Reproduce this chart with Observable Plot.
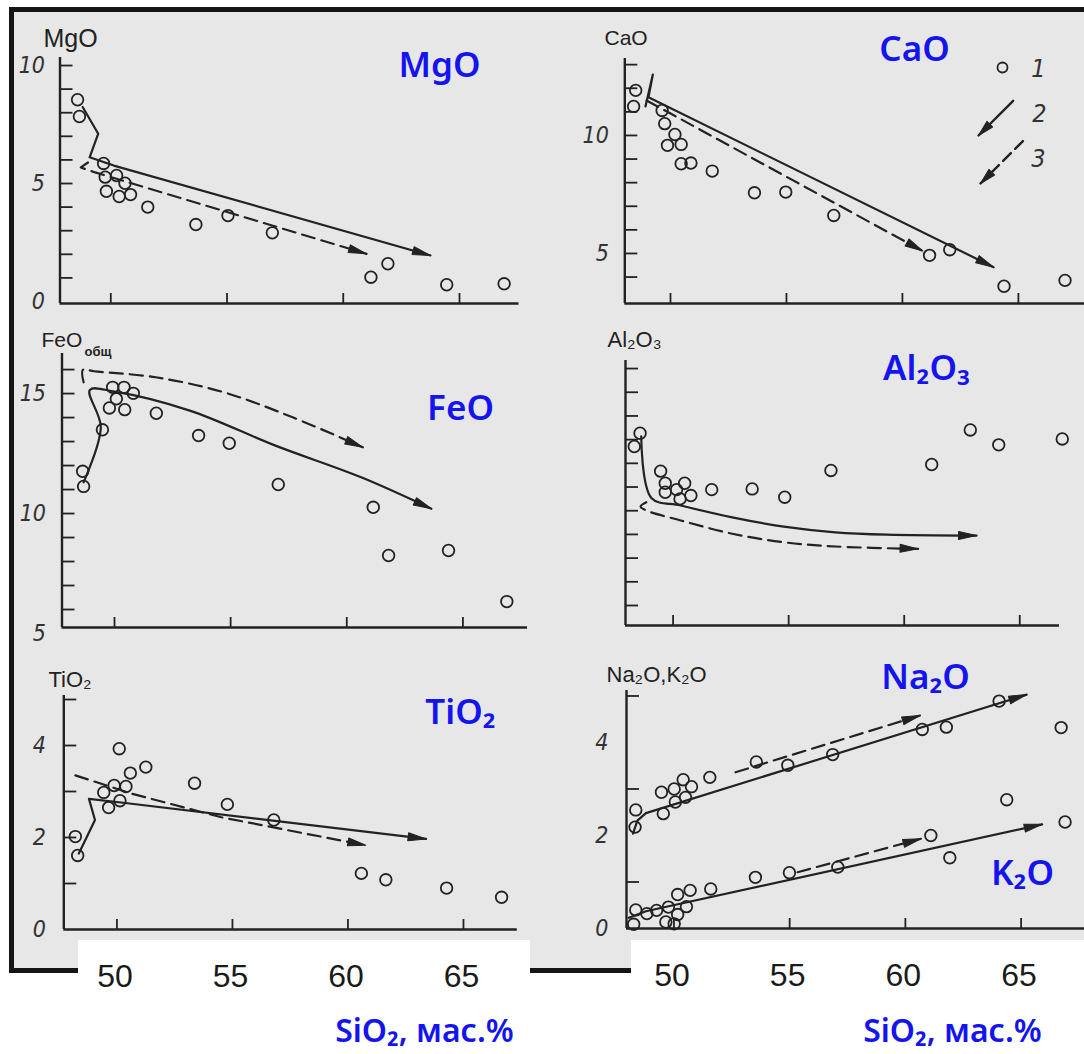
<!DOCTYPE html>
<html>
<head>
<meta charset="utf-8">
<script src="https://cdn.jsdelivr.net/npm/d3@7"></script>
<script src="https://cdn.jsdelivr.net/npm/@observablehq/plot@0.6"></script>
<style>
  html, body { margin: 0; padding: 0; background: #ffffff; }
  #page { position: relative; width: 1084px; height: 1054px; overflow: hidden; background: #ffffff; }
  #scan { position: absolute; left: 9px; top: 7px; width: 1080px; height: 956px;
          background: #e7e7e7; border-left: 5px solid #151515; border-top: 5px solid #151515;
          border-bottom: 5px solid #151515; }
  .patch { position: absolute; background: #ffffff; }
  .layer { position: absolute; left: 0; top: 0; }
  .layer svg { overflow: visible; }
</style>
</head>
<body>
<div id="page">
  <div id="scan"></div>
  <div class="patch" style="left:78px; top:940px; width:452px; height:114px;"></div>
  <div class="patch" style="left:631px; top:940px; width:453px; height:114px;"></div>
</div>
<script>
// ===================== DATA (SiO2, oxide wt.%) =====================
const xTickValues = [50, 55, 60, 65];

// MgO
const mgoPoints = [[48.57,8.55],[48.65,7.84],[49.69,5.85],[49.76,5.27],[50.25,5.34],[50.61,5.01],[49.81,4.67],[50.36,4.45],[50.85,4.53],[51.59,4.00],[53.66,3.26],[55.04,3.64],[56.95,2.91],[61.19,1.03],[61.92,1.60],[64.45,0.71],[66.92,0.75]];
const mgoSolid  = [[48.79,8.24],[49.46,7.11],[49.09,6.11],[50.13,5.76],[63.75,1.95]];
const mgoDashed = [[49.02,5.89],[48.71,5.68],[49.33,5.47],[61.00,2.02]];
const mgoYTicks = [1,2,3,4,5,6,7,8,9,10];
const mgoYLabels = [0,5,10];

// CaO
const caoPoints = [[48.50,11.91],[48.41,11.23],[49.64,11.06],[49.75,10.50],[50.19,10.04],[49.87,9.58],[50.46,9.62],[50.46,8.80],[50.88,8.83],[51.80,8.49],[53.62,7.57],[54.97,7.60],[57.04,6.61],[61.17,4.92],[62.04,5.16],[64.38,3.61],[67.01,3.86]];
const caoSolid  = [[48.92,11.23],[49.24,12.58],[49.05,11.62],[63.93,4.42]];
const caoDashed = [[48.97,11.48],[60.88,5.10]];
const caoYTicks = [4,5,6,7,8,9,10,11,12,13];
const caoYLabels = [5,10];

// FeO total
const feoPoints = [[48.63,11.76],[48.67,11.13],[49.48,13.49],[49.92,15.26],[50.41,15.26],[50.81,15.01],[50.08,14.78],[49.78,14.40],[50.44,14.33],[51.80,14.18],[53.62,13.25],[54.94,12.93],[57.05,11.21],[61.14,10.26],[61.80,8.25],[64.38,8.46],[66.89,6.33]];
const feoSolid  = [[48.67,11.30],[49.41,13.60],[48.94,15.15],[50.00,15.08],[53.24,14.29],[56.93,12.83],[60.62,11.51],[63.64,10.20]];
const feoDashed = [[48.67,15.47],[48.64,15.99],[49.12,15.93],[51.77,15.68],[54.72,15.05],[57.67,14.01],[60.69,12.76]];
const feoYTicks = [6,7,8,9,10,11,12,13,14,15,16];
const feoYLabels = [5,10,15];

// Al2O3
const alPoints = [[48.57,17.27],[48.32,16.71],[49.46,15.67],[49.66,15.16],[50.50,15.16],[49.66,14.78],[50.15,14.89],[50.77,14.64],[50.30,14.50],[51.67,14.89],[53.42,14.92],[54.83,14.57],[56.83,15.70],[61.19,15.95],[62.86,17.41],[64.09,16.78],[66.84,17.03]];
const alSolid  = [[48.62,17.14],[49.06,14.54],[50.33,14.22],[52.56,13.72],[54.79,13.33],[57.02,13.09],[59.25,12.99],[63.13,12.95]];
const alDashed = [[48.84,14.36],[48.59,14.18],[48.84,14.01],[50.33,13.59],[52.56,13.03],[54.79,12.67],[57.02,12.49],[60.60,12.39]];
const alYTicks = [10,11,12,13,14,15,16,17,18,19,20];
const alYLabels = [];

// TiO2
const tiPoints = [[50.10,3.93],[51.25,3.53],[50.58,3.40],[49.43,2.98],[49.88,3.13],[50.39,3.11],[50.13,2.80],[49.64,2.65],[53.36,3.18],[54.78,2.72],[56.79,2.38],[48.20,2.02],[48.30,1.61],[60.58,1.22],[61.64,1.08],[64.27,0.90],[66.65,0.70]];
const tiSolid  = [[48.35,1.65],[49.05,2.38],[48.79,2.84],[50.36,2.75],[63.38,1.97]];
const tiDashed = [[48.20,3.35],[50.66,2.95],[54.52,2.44],[60.77,1.83]];
const tiYTicks = [1,2,3,4,5];
const tiYLabels = [0,2,4];

// Na2O and K2O
const naPoints = [[48.35,2.55],[48.32,2.18],[49.46,2.93],[49.54,2.47],[50.01,3.00],[50.40,3.20],[50.06,2.72],[50.50,2.82],[50.76,3.05],[51.55,3.25],[53.56,3.58],[54.92,3.51],[56.86,3.74],[60.73,4.28],[61.77,4.33],[64.05,4.89],[66.73,4.32]];
const naSolid  = [[48.23,2.04],[48.42,2.32],[48.79,2.48],[65.24,5.03]];
const naDashed = [[52.66,3.36],[60.63,4.58]];
const kPoints  = [[48.35,0.40],[48.26,0.09],[48.83,0.32],[49.25,0.39],[49.76,0.46],[49.65,0.14],[50.01,0.10],[50.16,0.30],[50.54,0.47],[50.16,0.73],[50.70,0.82],[51.59,0.85],[53.52,1.10],[54.99,1.20],[57.08,1.32],[61.10,2.00],[61.92,1.52],[64.38,2.77],[66.90,2.29]];
const kSolid   = [[48.05,0.23],[48.79,0.37],[65.91,2.24]];
const kDashed  = [[55.34,1.21],[60.67,1.93]];
const naYTicks = [1,3,5];
const naYLabels = [0,2,4];

// legend labels
const legendLabels = ["1", "2", "3"];

// ===================== STYLE / LAYOUT =====================
const W = 1084, H = 1054;
const ink = "#222222";
const blue = "#1414ee";
const scanFont = "'Liberation Sans Narrow', 'DejaVu Sans Condensed', 'Liberation Sans', sans-serif";
const plainFont = "'Liberation Sans', Arial, sans-serif";
const blueFont = "'Noto Sans', 'Open Sans', sans-serif";

const tipShape = {draw(ctx, l, r) { ctx.moveTo(-r, 0); ctx.lineTo(0, -l); ctx.lineTo(r, 0); ctx.closePath(); }};
const shaftShape = {draw(ctx, l) { ctx.moveTo(0, 0); ctx.lineTo(0, -l); }};

function makePanel(cfg) {
  const f = cfg.frame;
  const fw = f.right - f.left, fh = f.bottom - f.top;
  const sx = d3.scaleLinear(cfg.xDomain, [f.left, f.right]);
  const sy = d3.scaleLinear(cfg.yDomain, [f.bottom, f.top]);
  const marks = [];
  // axes lines and inward ticks
  marks.push(Plot.ruleX([cfg.xDomain[0]], {stroke: ink, strokeWidth: 2.4}));
  marks.push(Plot.ruleY([cfg.yDomain[0]], {stroke: ink, strokeWidth: 2.4}));
  marks.push(Plot.tickY(cfg.yTicks, {y: d => d, insetRight: fw - 13, stroke: ink, strokeWidth: 1.8}));
  marks.push(Plot.tickX(xTickValues, {x: d => d, insetTop: fh - 10, stroke: ink, strokeWidth: 1.8}));
  if (cfg.yLabels.length) {
    marks.push(Plot.axisY(cfg.yLabels, {anchor: "left", tickSize: 0, tickPadding: cfg.pad, fontSize: 23,
      fontStyle: "italic", fontFamily: scanFont, color: "#333", label: null, tickFormat: d => String(d)}));
  }
  if (cfg.bottomAxis) {
    marks.push(Plot.axisX(xTickValues, {anchor: "bottom", tickSize: 0, tickPadding: 35, fontSize: 32,
      fontFamily: plainFont, color: "#1a1a1a", label: null, dx: -2, tickFormat: d => String(d)}));
    marks.push(Plot.text(["SiO₂, мас.%"], {frameAnchor: "top-left", dx: cfg.bottomAxis.x - f.left, dy: cfg.bottomAxis.y - f.top,
      text: d => d, fontSize: 32, fontWeight: 600, fontFamily: blueFont, fill: blue, textAnchor: "middle", lineAnchor: "middle"}));
  }
  // trend lines with arrow heads
  for (const t of cfg.trends) {
    marks.push(Plot.line(t.path, {x: d => d[0], y: d => d[1], stroke: ink, strokeWidth: 2.2,
      strokeDasharray: t.dashed ? "13,7" : undefined, curve: t.curve || "linear"}));
    const a = t.path[t.path.length - 2], b = t.path[t.path.length - 1];
    const ang = Math.atan2(sx(b[0]) - sx(a[0]), -(sy(b[1]) - sy(a[1]))) * 180 / Math.PI;
    marks.push(Plot.vector([b], {x: d => d[0], y: d => d[1], rotate: ang, length: 18, r: 4,
      shape: tipShape, anchor: "end", fill: ink, stroke: ink, strokeWidth: 1}));
  }
  // data points
  for (const p of cfg.points) {
    marks.push(Plot.dot(p, {x: d => d[0], y: d => d[1], r: 5.8, stroke: ink, strokeWidth: 1.8, fill: "none"}));
  }
  // axis titles (scan style)
  for (const t of cfg.titles) {
    marks.push(Plot.text([t.text], {frameAnchor: "top-left", dx: t.x - f.left, dy: t.y - f.top, text: d => d,
      textAnchor: "start", lineAnchor: "bottom", fontSize: t.size, fontWeight: t.weight || 400, fontFamily: plainFont, fill: ink}));
  }
  // blue labels
  for (const t of cfg.blue) {
    marks.push(Plot.text([t.text], {frameAnchor: "top-left", dx: t.x - f.left, dy: t.y - f.top, text: d => d,
      textAnchor: "middle", lineAnchor: "middle", fontSize: 35, fontWeight: 600, fontFamily: blueFont, fill: blue}));
  }
  if (cfg.legend) marks.push(...cfg.legend);
  const plot = Plot.plot({
    width: W, height: H,
    marginLeft: f.left, marginRight: W - f.right, marginTop: f.top, marginBottom: H - f.bottom,
    x: {domain: cfg.xDomain, axis: null},
    y: {domain: cfg.yDomain, axis: null},
    style: {background: "transparent", overflow: "visible"},
    marks
  });
  const div = document.createElement("div");
  div.className = "layer";
  div.appendChild(plot);
  document.getElementById("page").appendChild(div);
}

// legend (frame-anchored inside the CaO panel)
const legendMarks = [
  Plot.dot([0], {frameAnchor: "top-right", dx: -82, dy: 9, r: 5, stroke: ink, strokeWidth: 1.8, fill: "none"}),
  Plot.text([legendLabels[0]], {frameAnchor: "top-right", dx: -46, dy: 10, text: d => d, fontSize: 25, fontStyle: "italic", fontFamily: scanFont, fill: "#333", textAnchor: "middle", lineAnchor: "middle"}),
  Plot.vector([0], {frameAnchor: "top-right", dx: -106, dy: 77, rotate: -135, length: 49, anchor: "end", shape: shaftShape, stroke: ink, strokeWidth: 2.4}),
  Plot.vector([0], {frameAnchor: "top-right", dx: -106, dy: 77, rotate: -135, length: 16, r: 4, anchor: "end", shape: tipShape, fill: ink, stroke: ink, strokeWidth: 1}),
  Plot.text([legendLabels[1]], {frameAnchor: "top-right", dx: -45, dy: 55, text: d => d, fontSize: 25, fontStyle: "italic", fontFamily: scanFont, fill: "#333", textAnchor: "middle", lineAnchor: "middle"}),
  Plot.vector([0], {frameAnchor: "top-right", dx: -104, dy: 125, rotate: -135, length: 60, anchor: "end", shape: shaftShape, stroke: ink, strokeWidth: 2.4, strokeDasharray: "11,6"}),
  Plot.vector([0], {frameAnchor: "top-right", dx: -104, dy: 125, rotate: -135, length: 16, r: 4, anchor: "end", shape: tipShape, fill: ink, stroke: ink, strokeWidth: 1}),
  Plot.text([legendLabels[2]], {frameAnchor: "top-right", dx: -46, dy: 100, text: d => d, fontSize: 25, fontStyle: "italic", fontFamily: scanFont, fill: "#333", textAnchor: "middle", lineAnchor: "middle"})
];

// ===================== PANELS =====================
makePanel({
  frame: {left: 59.5, right: 518.5, top: 57, bottom: 303},
  xDomain: [47.815, 67.56], yDomain: [-0.085, 10.34],
  yTicks: mgoYTicks, yLabels: mgoYLabels, pad: 15,
  points: [mgoPoints],
  trends: [{path: mgoSolid}, {path: mgoDashed, dashed: true}],
  titles: [{text: "MgO", x: 43, y: 46, size: 25}],
  blue: [{text: "MgO", x: 439, y: 65}]
});
makePanel({
  frame: {left: 624.3, right: 1084, top: 58, bottom: 303},
  xDomain: [48.03, 67.85], yDomain: [2.88, 13.26],
  yTicks: caoYTicks, yLabels: caoYLabels, pad: 16,
  points: [caoPoints],
  trends: [{path: caoSolid}, {path: caoDashed, dashed: true}],
  titles: [{text: "CaO", x: 604, y: 44, size: 21}],
  blue: [{text: "CaO", x: 914, y: 49}],
  legend: legendMarks
});
makePanel({
  frame: {left: 61.5, right: 527, top: 353, bottom: 627},
  xDomain: [47.74, 67.78], yDomain: [5.25, 16.67],
  yTicks: feoYTicks, yLabels: feoYLabels, pad: 16,
  points: [feoPoints],
  trends: [{path: feoSolid, curve: "catmull-rom"}, {path: feoDashed, dashed: true, curve: "catmull-rom"}],
  titles: [{text: "FeO", x: 41, y: 346, size: 21}, {text: "общ", x: 84, y: 355, size: 13, weight: 700}],
  blue: [{text: "FeO", x: 460, y: 408}]
});
makePanel({
  frame: {left: 625, right: 1059, top: 360, bottom: 625},
  xDomain: [47.94, 66.72], yDomain: [9.156, 20.34],
  yTicks: alYTicks, yLabels: alYLabels, pad: 16,
  points: [alPoints],
  trends: [{path: alSolid, curve: "catmull-rom"}, {path: alDashed, dashed: true, curve: "catmull-rom"}],
  titles: [{text: "Al₂O₃", x: 607, y: 346, size: 22}],
  blue: [{text: "Al₂O₃", x: 926, y: 368}]
});
makePanel({
  frame: {left: 63.3, right: 516.8, top: 695, bottom: 929},
  xDomain: [47.70, 67.33], yDomain: [0, 5.087],
  yTicks: tiYTicks, yLabels: tiYLabels, pad: 18,
  points: [tiPoints],
  trends: [{path: tiSolid}, {path: tiDashed, dashed: true}],
  titles: [{text: "TiO₂", x: 48, y: 686, size: 22}],
  blue: [{text: "TiO₂", x: 460, y: 712}],
  bottomAxis: {x: 424, y: 1031}
});
makePanel({
  frame: {left: 626, right: 1084, top: 690, bottom: 928},
  xDomain: [47.95, 67.74], yDomain: [0, 5.118],
  yTicks: naYTicks, yLabels: naYLabels, pad: 18,
  points: [naPoints, kPoints],
  trends: [{path: naSolid}, {path: naDashed, dashed: true}, {path: kSolid}, {path: kDashed, dashed: true}],
  titles: [{text: "Na₂O,K₂O", x: 606, y: 681, size: 22}],
  blue: [{text: "Na₂O", x: 925, y: 677}, {text: "K₂O", x: 1022, y: 873}],
  bottomAxis: {x: 952, y: 1031}
});
</script>
</body>
</html>
